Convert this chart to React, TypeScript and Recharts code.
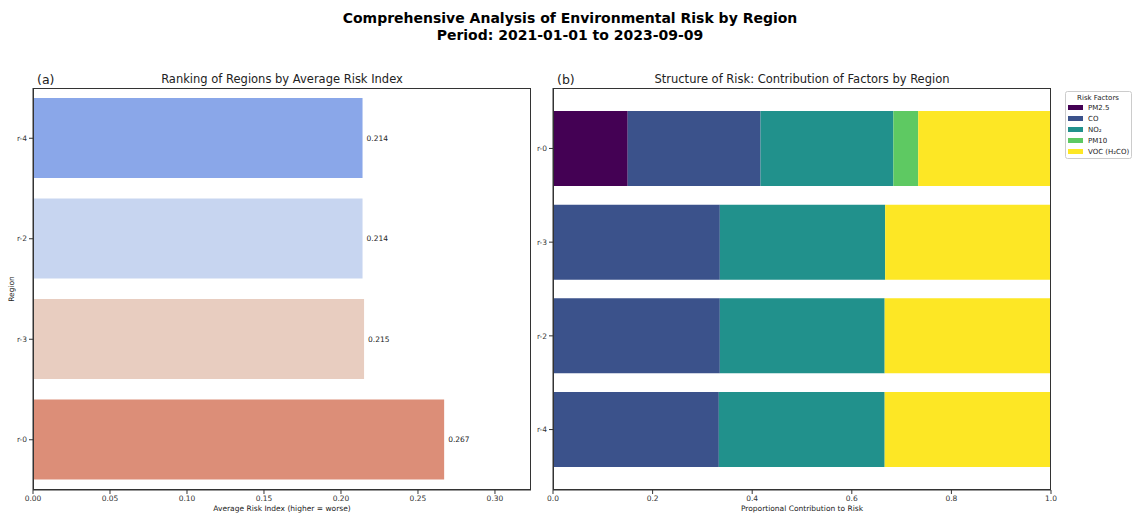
import React from 'react';
import { BarChart, Bar, XAxis, YAxis, Cell, LabelList } from 'recharts';

// ---------- data ----------
const rankRegions = ['r-4', 'r-2', 'r-3', 'r-0'];
const rankValues = [0.214, 0.214, 0.215, 0.267];
const rankColors = ['#8aa7e9', '#c7d5f0', '#e8cdc0', '#dc8e78'];
const rankTicks = [0, 0.05, 0.1, 0.15, 0.2, 0.25, 0.3];

const structRegions = ['r-0', 'r-3', 'r-2', 'r-4'];
const pm25 = [0.15, 0, 0, 0];
const co = [0.2667, 0.335, 0.335, 0.333];
const no2 = [0.2667, 0.332, 0.331, 0.333];
const pm10 = [0.05, 0, 0, 0];
const voc = [0.2666, 0.333, 0.334, 0.334];
const factorKeys = ['pm25', 'co', 'no2', 'pm10', 'voc'];
const factorNames = ['PM2.5', 'CO', 'NO₂', 'PM10', 'VOC (H₂CO)'];
const factorColors = ['#440154', '#3b528b', '#21918c', '#5ec962', '#fde725'];
const structTicks = [0, 0.2, 0.4, 0.6, 0.8, 1.0];

const rankData = rankRegions.map((r, i) => ({ region: r, risk: rankValues[i] }));
const structData = structRegions.map((r, i) => ({
  region: r,
  pm25: pm25[i],
  co: co[i],
  no2: no2[i],
  pm10: pm10[i],
  voc: voc[i],
}));

const FONT = '"DejaVu Sans", sans-serif';
const AX = '#333333';
const tickStyle = { fontSize: 7.5, fill: '#333', fontFamily: FONT };

export default function App() {
  return (
    <div style={{ position: 'absolute', left: 0, top: 0, width: 1132, height: 513, background: '#fff', fontFamily: FONT }}>
      {/* Left chart */}
      <div style={{ position: 'absolute', left: 0, top: 0 }}>
        <BarChart
          width={560}
          height={513}
          data={rankData}
          layout="vertical"
          margin={{ top: 88, right: 29, bottom: 0, left: 3 }}
          barCategoryGap="10%"
        >
          <XAxis
            type="number"
            domain={[0, 0.3234]}
            allowDataOverflow
            ticks={rankTicks}
            tickFormatter={(v: number) => v.toFixed(2)}
            height={23}
            tick={tickStyle}
            tickSize={4}
            tickLine={{ stroke: AX }}
            axisLine={{ stroke: AX }}
          />
          <YAxis
            type="category"
            dataKey="region"
            width={30}
            tick={tickStyle}
            tickSize={4}
            tickLine={{ stroke: AX }}
            axisLine={{ stroke: AX }}
          />
          <Bar dataKey="risk" isAnimationActive={false}>
            {rankData.map((d, i) => (
              <Cell key={d.region} fill={rankColors[i]} />
            ))}
            <LabelList
              dataKey="risk"
              position="right"
              offset={4}
              formatter={(v: number) => v.toFixed(3)}
              style={{ fontSize: 7.5, fill: '#222', fontFamily: FONT }}
            />
          </Bar>
        </BarChart>
      </div>

      {/* Right chart */}
      <div style={{ position: 'absolute', left: 520, top: 0 }}>
        <BarChart
          width={540}
          height={513}
          data={structData}
          layout="vertical"
          margin={{ top: 88, right: 9, bottom: 0, left: 3 }}
          barCategoryGap="10%"
        >
          <XAxis
            type="number"
            domain={[0, 1]}
            allowDataOverflow
            ticks={structTicks}
            tickFormatter={(v: number) => v.toFixed(1)}
            height={23}
            tick={tickStyle}
            tickSize={4}
            tickLine={{ stroke: AX }}
            axisLine={{ stroke: AX }}
          />
          <YAxis
            type="category"
            dataKey="region"
            width={30}
            padding={{ top: 13.6, bottom: 13.6 }}
            tick={tickStyle}
            tickSize={4}
            tickLine={{ stroke: AX }}
            axisLine={{ stroke: AX }}
          />
          {factorKeys.map((k, i) => (
            <Bar key={k} dataKey={k} stackId="s" fill={factorColors[i]} isAnimationActive={false} />
          ))}
        </BarChart>
      </div>

      {/* frames */}
      <div style={{ position: 'absolute', left: 33, top: 88, width: 498, height: 402, border: `1px solid ${AX}`, boxSizing: 'border-box', pointerEvents: 'none' }} />
      <div style={{ position: 'absolute', left: 553, top: 88, width: 498, height: 402, border: `1px solid ${AX}`, boxSizing: 'border-box', pointerEvents: 'none' }} />

      {/* texts */}
      <svg width={1132} height={513} style={{ position: 'absolute', left: 0, top: 0, pointerEvents: 'none' }}>
        <g fontFamily={FONT} fill="#000">
          <text x={570} y={23} textAnchor="middle" fontSize={14} fontWeight="bold">
            Comprehensive Analysis of Environmental Risk by Region
          </text>
          <text x={570} y={40} textAnchor="middle" fontSize={14} fontWeight="bold">
            Period: 2021-01-01 to 2023-09-09
          </text>
          <text x={37} y={84} fontSize={12.5} fill="#222">(a)</text>
          <text x={282} y={83} textAnchor="middle" fontSize={11.5} fill="#222">
            Ranking of Regions by Average Risk Index
          </text>
          <text x={557} y={84} fontSize={12.5} fill="#222">(b)</text>
          <text x={802} y={83} textAnchor="middle" fontSize={11.5} fill="#222">
            Structure of Risk: Contribution of Factors by Region
          </text>
          <text x={282} y={511} textAnchor="middle" fontSize={7.5} fill="#222">
            Average Risk Index (higher = worse)
          </text>
          <text x={802} y={511} textAnchor="middle" fontSize={7.5} fill="#222">
            Proportional Contribution to Risk
          </text>
          <text x={14} y={289} textAnchor="middle" fontSize={7.5} fill="#222" transform="rotate(-90 14 289)">
            Region
          </text>
        </g>
        {/* legend */}
        <g fontFamily={FONT}>
          <rect x={1065.5} y={91.5} width={66} height={67} fill="#fff" stroke="#ccc" rx={2} />
          <text x={1098} y={100} textAnchor="middle" fontSize={7} fill="#222">Risk Factors</text>
          {factorNames.map((n, i) => (
            <g key={n}>
              <rect x={1068} y={105 + i * 11} width={15} height={5} fill={factorColors[i]} />
              <text x={1088} y={110 + i * 11} fontSize={7} fill="#222">{n}</text>
            </g>
          ))}
        </g>
      </svg>
    </div>
  );
}
